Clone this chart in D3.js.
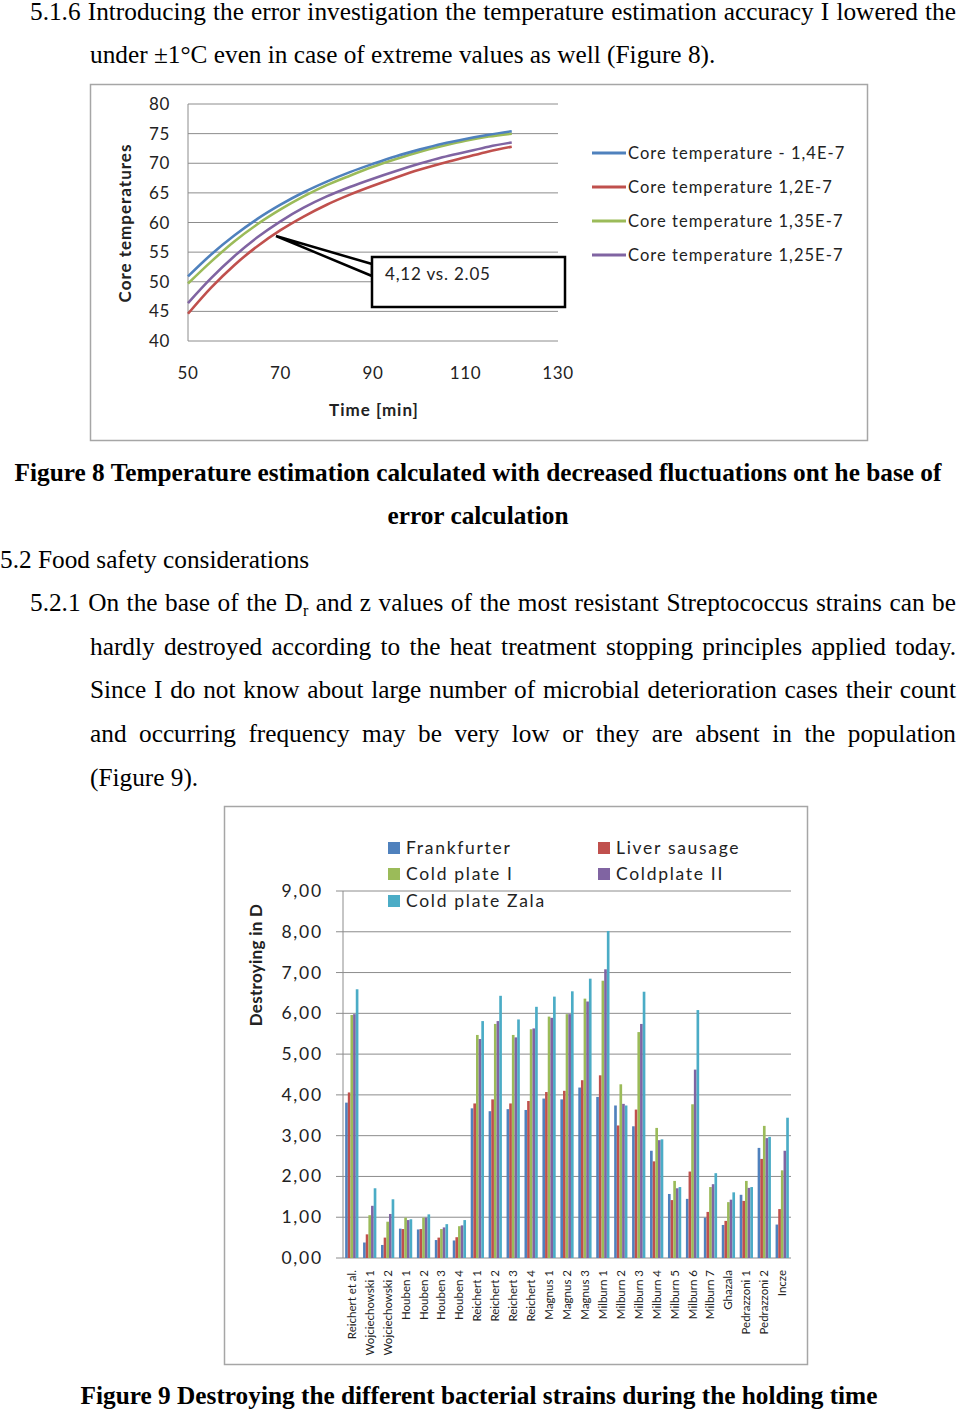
<!DOCTYPE html>
<html>
<head>
<meta charset="utf-8">
<script src="https://cdn.jsdelivr.net/npm/d3@7/dist/d3.min.js"></script>
<style>
  body { margin: 0; background: #fff; }
  svg { display: block; }
  .para { font-family: "Liberation Serif", "Times New Roman", serif; font-size: 25.3px; fill: #000; }
  .cap { font-weight: bold; }
  .xl { font-family: Lato, "Open Sans", sans-serif; fill: #222; }
</style>
</head>
<body>
<svg id="page" width="960" height="1410"></svg>
<script>
// ---- figure 8 data (core temperature vs time) ----
var times = [50, 55, 60, 65, 70, 75, 80, 85, 90, 95, 100, 105, 110, 115, 120];
var core14 = [50.9, 54.6, 57.8, 60.6, 63.0, 65.1, 66.9, 68.5, 69.9, 71.2, 72.3, 73.3, 74.1, 74.8, 75.4];
var core12 = [44.6, 49.0, 52.8, 56.0, 58.7, 61.0, 63.0, 64.7, 66.2, 67.6, 68.9, 70.0, 71.0, 72.0, 72.8];
var core135 = [49.7, 53.4, 56.8, 59.7, 62.2, 64.4, 66.3, 67.9, 69.4, 70.7, 71.9, 72.9, 73.8, 74.5, 75.0];
var core125 = [46.4, 50.6, 54.3, 57.5, 60.2, 62.5, 64.4, 66.0, 67.4, 68.7, 69.9, 71.0, 71.9, 72.8, 73.5];
var lineNames = ["Core temperature - 1,4E-7", "Core temperature 1,2E-7", "Core temperature 1,35E-7", "Core temperature 1,25E-7"];
var timeTicks = [50, 70, 90, 110, 130];
var tempTicks = [40, 45, 50, 55, 60, 65, 70, 75, 80];

// ---- figure 9 data (destroying in D) ----
var strains = ["Reichert et al.", "Wojciechowski 1", "Wojciechowski 2", "Houben 1", "Houben 2", "Houben 3", "Houben 4",
  "Reichert 1", "Reichert 2", "Reichert 3", "Reichert 4", "Magnus 1", "Magnus 2", "Magnus 3",
  "Milburn 1", "Milburn 2", "Milburn 3", "Milburn 4", "Milburn 5", "Milburn 6", "Milburn 7",
  "Ghazala", "Pedrazzoni 1", "Pedrazzoni 2", "Incze"];
var products = ["Frankfurter", "Liver sausage", "Cold plate I", "Coldplate II", "Cold plate Zala"];
var frankfurter = [3.81, 0.38, 0.32, 0.72, 0.70, 0.44, 0.43, 3.67, 3.60, 3.65, 3.63, 3.91, 3.89, 4.18, 3.95, 3.74, 3.23, 2.63, 1.57, 1.45, 0.99, 0.81, 1.55, 2.70, 0.82];
var liverSausage = [4.06, 0.58, 0.50, 0.71, 0.71, 0.50, 0.51, 3.79, 3.89, 3.79, 3.85, 4.07, 4.10, 4.36, 4.48, 3.25, 3.64, 2.37, 1.42, 2.12, 1.13, 0.91, 1.40, 2.43, 1.20];
var coldPlate1 = [5.96, 1.05, 0.89, 0.99, 0.99, 0.71, 0.78, 5.47, 5.74, 5.47, 5.61, 5.92, 5.98, 6.36, 6.80, 4.26, 5.54, 3.19, 1.89, 3.77, 1.74, 1.37, 1.89, 3.24, 2.15];
var coldPlate2 = [5.98, 1.28, 1.08, 0.93, 0.99, 0.75, 0.80, 5.37, 5.81, 5.41, 5.63, 5.89, 5.98, 6.29, 7.08, 3.78, 5.74, 2.89, 1.71, 4.62, 1.81, 1.43, 1.72, 2.94, 2.63];
var coldPlateZala = [6.59, 1.71, 1.44, 0.95, 1.07, 0.83, 0.93, 5.81, 6.43, 5.85, 6.16, 6.41, 6.54, 6.85, 8.02, 3.74, 6.53, 2.91, 1.74, 6.08, 2.08, 1.61, 1.74, 2.97, 3.44];
var dTicks = [0, 1, 2, 3, 4, 5, 6, 7, 8, 9];

var colors = ["#4f81bd", "#c0504d", "#9bbb59", "#8064a2", "#4bacc6"];

var svg = d3.select("#page");

// ---- body text ----
function justify(t, width) {
  var str = t.text();
  var natural = t.node().getComputedTextLength();
  var gaps = str.split(" ").length - 1;
  if (gaps > 0) t.attr("word-spacing", (width - natural) / gaps);
}
function textLine(x, y, str, width, cls) {
  var t = svg.append("text").attr("class", "para " + (cls || "")).attr("x", x).attr("y", y).text(str);
  if (width) justify(t, width);
  return t;
}
function centerLine(cx, y, str) {
  svg.append("text").attr("class", "para cap").attr("x", cx).attr("y", y)
    .attr("text-anchor", "middle").text(str);
}

textLine(30, 20, "5.1.6 Introducing the error investigation the temperature estimation accuracy I lowered the", 926);
textLine(90, 63, "under \u00b11\u00b0C even in case of extreme values as well (Figure 8).");
centerLine(478, 481, "Figure 8 Temperature estimation calculated with decreased fluctuations ont he base of");
centerLine(478, 524, "error calculation");
textLine(0, 568, "5.2 Food safety considerations");

// line with subscript r
(function () {
  var t = svg.append("text").attr("class", "para").attr("x", 30).attr("y", 611);
  t.append("tspan").text("5.2.1 On the base of the D");
  t.append("tspan").attr("font-size", 16).attr("dy", 5).text("r");
  t.append("tspan").attr("dy", -5).text(" and z values of the most resistant Streptococcus strains can be");
  justify(t, 926);
})();
textLine(90, 655, "hardly destroyed according to the heat treatment stopping principles applied today.", 866);
textLine(90, 698, "Since I do not know about large number of microbial deterioration cases their count", 866);
textLine(90, 742, "and occurring frequency may be very low or they are absent in the population", 866);
textLine(90, 786, "(Figure 9).");
centerLine(479, 1404, "Figure 9 Destroying the different bacterial strains during the holding time");

// ---- figure 8 ----
svg.append("rect").attr("x", 90.5).attr("y", 84.5).attr("width", 777).attr("height", 356)
  .attr("fill", "#fff").attr("stroke", "#a6a6a6").attr("stroke-width", 1.5);

var x1 = d3.scaleLinear().domain([50, 130]).range([188, 558]);
var y1 = d3.scaleLinear().domain([40, 80]).range([341, 104]);

var f8 = svg.append("g");
f8.selectAll("line.grid").data(tempTicks).enter().append("line")
  .attr("x1", x1(50)).attr("x2", x1(130))
  .attr("y1", function (d) { return y1(d); }).attr("y2", function (d) { return y1(d); })
  .attr("stroke", "#8c8c8c").attr("stroke-width", 1);
f8.append("line").attr("x1", x1(50)).attr("x2", x1(50)).attr("y1", y1(40)).attr("y2", y1(80))
  .attr("stroke", "#8c8c8c");
f8.selectAll("text.yt").data(tempTicks).enter().append("text")
  .attr("class", "xl").attr("x", 170).attr("y", function (d) { return y1(d) + 6; })
  .attr("text-anchor", "end").attr("font-size", 17).attr("letter-spacing", 0.6)
  .text(function (d) { return d; });
f8.selectAll("text.xt").data(timeTicks).enter().append("text")
  .attr("class", "xl").attr("x", function (d) { return x1(d); }).attr("y", 379)
  .attr("text-anchor", "middle").attr("font-size", 17).attr("letter-spacing", 0.6)
  .text(function (d) { return d; });
f8.append("text").attr("class", "xl").attr("x", 374).attr("y", 416).attr("text-anchor", "middle")
  .attr("font-size", 17).attr("letter-spacing", 1).attr("font-weight", "bold").text("Time [min]");
f8.append("text").attr("class", "xl").attr("transform", "translate(131,223) rotate(-90)")
  .attr("text-anchor", "middle").attr("font-size", 17).attr("letter-spacing", 1)
  .attr("font-weight", "bold").text("Core temperatures");

var series1 = [core14, core12, core135, core125];
var line = d3.line().curve(d3.curveMonotoneX)
  .x(function (d, i) { return x1(times[i]); })
  .y(function (d) { return y1(d); });
var drawOrder = [1, 3, 2, 0];
drawOrder.forEach(function (k) {
  f8.append("path").attr("d", line(series1[k])).attr("fill", "none")
    .attr("stroke", colors[k]).attr("stroke-width", 2.6);
});

// callout
f8.append("path").attr("d", "M276,236 L372,264 L372,276 Z").attr("fill", "#fff")
  .attr("stroke", "#000").attr("stroke-width", 2.5).attr("stroke-linejoin", "miter");
f8.append("rect").attr("x", 372).attr("y", 257).attr("width", 193).attr("height", 50)
  .attr("fill", "#fff").attr("stroke", "#000").attr("stroke-width", 2.5);
f8.append("text").attr("class", "xl").attr("x", 385).attr("y", 280).attr("font-size", 17)
  .attr("letter-spacing", 0.8).text("4,12 vs. 2.05");

var leg1 = f8.selectAll("g.leg").data(lineNames).enter().append("g")
  .attr("transform", function (d, i) { return "translate(592," + (153 + i * 34) + ")"; });
leg1.append("line").attr("x1", 0).attr("x2", 34).attr("stroke-width", 3)
  .attr("stroke", function (d, i) { return colors[i]; });
leg1.append("text").attr("class", "xl").attr("x", 36).attr("y", 6).attr("font-size", 16.5)
  .attr("letter-spacing", 1.05).text(function (d) { return d; });

// ---- figure 9 ----
svg.append("rect").attr("x", 224.5).attr("y", 806.5).attr("width", 583).attr("height", 558)
  .attr("fill", "#fff").attr("stroke", "#a6a6a6").attr("stroke-width", 1.5);

var f9 = svg.append("g");
var x2 = d3.scaleBand().domain(strains).range([343, 791]).paddingInner(0.26).paddingOuter(0.12);
var xs = d3.scaleBand().domain(products).range([0, x2.bandwidth()]);
var y2 = d3.scaleLinear().domain([0, 9]).range([1258, 891]);

f9.selectAll("line.grid").data(dTicks).enter().append("line")
  .attr("x1", 336).attr("x2", 791)
  .attr("y1", function (d) { return y2(d); }).attr("y2", function (d) { return y2(d); })
  .attr("stroke", "#8c8c8c").attr("stroke-width", 1);
f9.append("line").attr("x1", 343).attr("x2", 343).attr("y1", y2(0)).attr("y2", y2(9))
  .attr("stroke", "#8c8c8c");
f9.selectAll("text.yt").data(dTicks).enter().append("text")
  .attr("class", "xl").attr("x", 323).attr("y", function (d) { return y2(d) + 6; })
  .attr("text-anchor", "end").attr("font-size", 17.5).attr("letter-spacing", 1.8)
  .text(function (d) { return d3.format(".2f")(d).replace(".", ","); });

var series2 = [frankfurter, liverSausage, coldPlate1, coldPlate2, coldPlateZala];
series2.forEach(function (vals, k) {
  f9.selectAll("rect.s" + k).data(vals).enter().append("rect")
    .attr("x", function (d, i) { return x2(strains[i]) + xs(products[k]); })
    .attr("width", xs.bandwidth())
    .attr("y", function (d) { return y2(d); })
    .attr("height", function (d) { return y2(0) - y2(d); })
    .attr("fill", colors[k]);
});

f9.selectAll("text.xt").data(strains).enter().append("text")
  .attr("class", "xl").attr("font-size", 11.5).attr("text-anchor", "end")
  .attr("transform", function (d) {
    return "translate(" + (x2(d) + x2.bandwidth() / 2 + 4) + ",1270) rotate(-90)";
  })
  .text(function (d) { return d; });

f9.append("text").attr("class", "xl").attr("transform", "translate(262,965) rotate(-90)")
  .attr("text-anchor", "middle").attr("font-size", 17).attr("letter-spacing", 0.3)
  .attr("font-weight", "bold").text("Destroying in D");

var legPos = [[388, 848], [598, 848], [388, 874], [598, 874], [388, 901]];
var leg2 = f9.selectAll("g.leg").data(products).enter().append("g")
  .attr("transform", function (d, i) { return "translate(" + legPos[i][0] + "," + legPos[i][1] + ")"; });
leg2.append("rect").attr("x", 0).attr("y", -6).attr("width", 12).attr("height", 12)
  .attr("fill", function (d, i) { return colors[i]; });
leg2.append("text").attr("class", "xl").attr("x", 18).attr("y", 6).attr("font-size", 17.5)
  .attr("letter-spacing", 1.7).text(function (d) { return d; });
</script>
</body>
</html>
